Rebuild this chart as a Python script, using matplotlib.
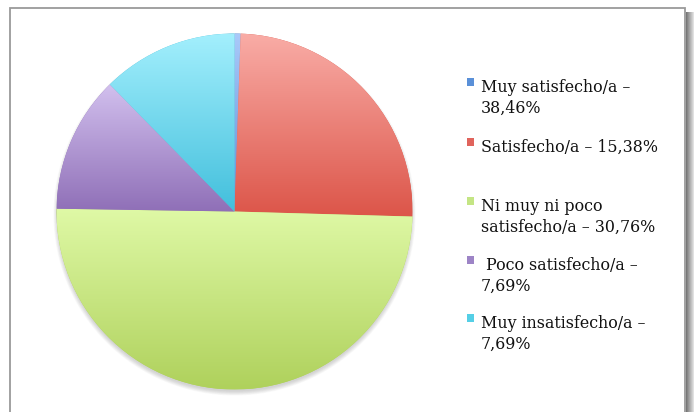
import numpy as np
import matplotlib
matplotlib.use("Agg")
import matplotlib.pyplot as plt
from matplotlib.colors import LinearSegmentedColormap
from matplotlib.patches import Rectangle, Circle

# ---- data ----
categories = ["Muy satisfecho/a \u2013\n38,46%",
              "Satisfecho/a \u2013 15,38%",
              "Ni muy ni poco\nsatisfecho/a \u2013 30,76%",
              " Poco satisfecho/a \u2013\n7,69%",
              "Muy insatisfecho/a \u2013\n7,69%"]
slice_values = [0.55, 24.9, 49.8, 12.4, 12.35]
top_colors = ["#a9c9f9", "#f9aca6", "#dff9a6", "#d2c0ee", "#a3effd"]
bottom_colors = ["#5d8fd8", "#dc5549", "#afd15c", "#8f6fb7", "#42bfdc"]
marker_colors = ["#5a90d8", "#e0645c", "#c4e584", "#9d84c6", "#55cfe6"]

W, H = 694, 412
fig = plt.figure(figsize=(W / 100, H / 100), dpi=100)
fig.patch.set_facecolor("white")
ax = fig.add_axes([0, 0, 1, 1])
ax.set_xlim(0, W)
ax.set_ylim(0, H)
ax.set_aspect("equal")
ax.axis("off")

# frame with right shadow
for i in range(9):
    ax.add_patch(Rectangle((686 + i, 0), 1, H - 12, facecolor="#555555",
                           alpha=0.8 * (1 - i / 9.0), lw=0, zorder=0))
ax.add_patch(Rectangle((10, -20), 675, H - 8 + 20, facecolor="white",
                       edgecolor="#9a9a9a", lw=1.3, zorder=1))

cx, cy, R = 234.5, H - 211.5, 178

# drop shadow
for k in range(8):
    ax.add_patch(Circle((cx, cy - 3), R + 3 - k * 0.6, facecolor="#777777",
                        alpha=0.045, lw=0, zorder=2))

wedges, _ = ax.pie(slice_values, startangle=90, counterclock=False,
                   center=(cx, cy), radius=R, frame=True,
                   wedgeprops=dict(linewidth=0))
ax.set_xlim(0, W)
ax.set_ylim(0, H)
ax.axis("off")

for w, tc, bc in zip(wedges, top_colors, bottom_colors):
    w.set_zorder(3)
    w.set_facecolor(bc)
    ext = w.get_path().get_extents()
    cmap = LinearSegmentedColormap.from_list("g", [bc, tc])
    grad = np.linspace(0, 1, 256).reshape(-1, 1)
    im = ax.imshow(grad, cmap=cmap, origin="lower", aspect="auto",
                   extent=[ext.x0, ext.x1, ext.y0, ext.y1], zorder=4,
                   interpolation="bilinear")
    im.set_clip_path(w)
ax.set_xlim(0, W)
ax.set_ylim(0, H)

# legend
text_x = 481
marker_x = 467
legend_tops = [78, 138, 197, 256, 314]
for lab, col, top in zip(categories, marker_colors, legend_tops):
    ax.add_patch(Rectangle((marker_x, H - top - 8), 7, 8, facecolor=col,
                           edgecolor="none", zorder=5))
    ax.text(text_x, H - top - 0.5, lab, ha="left", va="top",
            family="DejaVu Serif", fontsize=11.4, color="#111111",
            linespacing=1.36, zorder=6)

fig.savefig("out.png", dpi=100, facecolor="white")
